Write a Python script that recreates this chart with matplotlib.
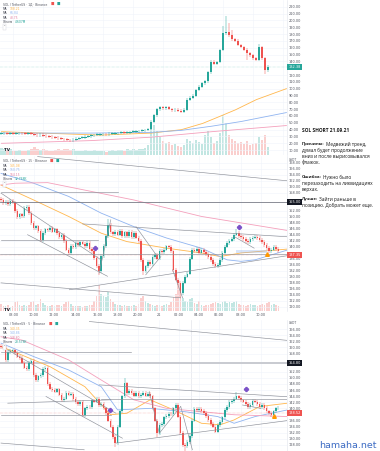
#!/usr/bin/env python3

import matplotlib
matplotlib.use("Agg")
import matplotlib.pyplot as plt
import numpy as np

# figure size in px
W, H = 380, 451

GREEN = "#26a69a"
RED = "#ef5350"
MA_ORANGE = "#ffb74d"
MA_BLUE = "#90b4f0"
MA_PINK = "#f4a0bc"
LINE = "#8d9099"
PURPLE = "#7b52c8"

# ---------------- panel 1: daily ----------------
p1_first_open = 34.0
p1_close = [34.5, 35.0, 34.2, 34.8, 33.9, 34.6, 35.2, 34.4, 34.0, 34.7,
            33.8, 32.5, 31.8, 32.4, 31.0, 30.2, 29.5, 28.8, 28.0, 27.2,
            26.5, 25.8, 25.0, 24.2, 25.5, 26.8, 27.9, 28.5, 29.8, 30.5,
            31.5, 32.0, 32.6, 33.0, 33.4, 33.1, 33.9, 34.2, 34.6, 35.0,
            35.4, 35.0, 35.8, 36.4, 36.9, 37.5, 38.2, 38.8, 39.5, 41.0,
            51.6, 61.0, 70.0, 72.5, 71.0, 72.8, 70.2, 68.5, 69.5, 67.8,
            66.5, 69.0, 84.0, 87.0, 90.0, 98.0, 103.0, 108.0, 110.5, 124.0,
            139.5, 136.0, 139.0, 156.6, 181.0, 182.5, 178.0, 172.0, 170.0, 164.0,
            161.0, 157.0, 151.8, 149.0, 144.5, 142.0, 161.0, 144.5, 127.0, 132.0]
p1_volume = [1.8, 1.5, 1.2, 1.4, 1.0, 1.1, 1.3, 0.9, 1.0, 1.2,
             1.6, 2.0, 1.4, 1.2, 1.5, 1.3, 1.1, 1.0, 1.2, 1.4,
             1.3, 1.5, 1.6, 1.2, 1.4, 1.1, 1.0, 0.9, 1.2, 1.1,
             1.0, 1.2, 0.9, 1.0, 1.1, 0.8, 1.0, 1.2, 1.1, 1.3,
             1.2, 1.0, 1.4, 1.3, 1.5, 1.2, 1.6, 1.5, 1.8, 2.5,
             8.0, 7.5, 6.0, 4.5, 3.5, 3.0, 3.2, 2.5, 2.8, 2.2,
             2.0, 2.4, 4.0, 3.5, 3.0, 3.8, 3.2, 2.8, 5.0, 6.0,
             4.5, 3.0, 3.5, 5.5, 10.0, 8.0, 5.0, 4.0, 3.5, 3.0,
             3.2, 2.8, 3.6, 2.5, 2.8, 3.0, 4.5, 3.8, 5.0, 2.0]
p1_spikes = {74: (192, None), 75: (206, None), 76: (196, None), 77: (186, None),
             82: (None, 142), 86: (166, None), 88: (None, 122)}
p1_ma_orange = [(0, 37), (20, 34), (33, 32), (50, 35), (60, 40), (67, 49),
                (72, 58), (78, 69), (85, 84), (95, 100)]
p1_ma_blue = [(0, 35), (30, 35), (50, 36), (60, 39), (70, 45), (80, 52), (95, 65)]
p1_ma_pink = [(0, 20), (30, 24), (50, 29), (70, 37), (95, 46)]
p1_last = "132.38"
p1_legend = ["SOL / TetherUS · 1Д · Binance", "108.21", "66.84", "48.75", "4.607M"]

# ---------------- panel 2: 15 min ----------------
p2_first_open = 156.0
p2_close = [155.5, 154.5, 155.0, 154.2, 155.3, 154.8, 152.0, 150.0, 150.8, 150.2,
            153.0, 153.4, 151.2, 148.0, 146.2, 146.8, 145.2, 142.3, 144.5, 145.8,
            145.5, 146.2, 145.0, 145.8, 144.5, 143.2, 143.8, 141.8, 139.0, 137.9,
            140.2, 139.8, 141.2, 140.6, 141.4, 141.0, 140.2, 141.3, 139.2, 138.5,
            136.2, 133.5, 131.8, 136.8, 140.2, 143.4, 147.3, 144.8, 144.2, 145.0,
            144.0, 145.2, 143.5, 144.8, 143.6, 145.0, 143.2, 144.5, 143.0, 141.8,
            135.6, 131.8, 133.4, 135.0, 134.2, 136.5, 137.2, 136.0, 138.5, 138.2,
            139.0, 140.1, 140.0, 138.4, 132.3, 129.0, 127.9, 124.5, 128.0, 130.0,
            131.0, 136.0, 139.0, 138.6, 139.2, 138.0, 139.0, 138.3, 137.5, 136.5,
            135.6, 134.2, 133.4, 134.0, 135.6, 138.0, 140.0, 141.2, 142.0, 142.5,
            144.0, 144.5, 143.5, 143.2, 142.6, 141.8, 141.5, 142.5, 143.0, 143.2,
            142.8, 142.3, 141.5, 140.6, 139.5, 138.4, 139.0, 140.0, 139.2, 138.4]
p2_volume = [1.2, 0.8, 0.9, 1.0, 0.7, 0.8, 1.6, 1.8, 1.0, 0.9,
             1.1, 0.8, 1.0, 1.5, 1.7, 1.0, 1.2, 2.0, 1.3, 1.0,
             0.9, 0.8, 1.0, 0.9, 1.0, 1.1, 0.9, 1.2, 1.6, 1.8,
             1.2, 0.9, 0.8, 0.9, 0.8, 0.7, 0.9, 0.8, 1.0, 1.1,
             1.8, 2.6, 4.5, 3.0, 2.6, 2.4, 3.2, 2.0, 1.5, 1.2,
             1.0, 1.1, 0.9, 1.0, 0.8, 0.9, 0.8, 1.0, 0.9, 1.2,
             2.2, 2.6, 1.8, 1.4, 1.2, 1.0, 0.9, 1.0, 1.1, 0.9,
             1.0, 1.2, 1.1, 1.6, 2.4, 3.0, 4.8, 3.6, 2.2, 1.8,
             1.6, 2.0, 2.2, 1.4, 1.2, 1.8, 1.0, 0.9, 1.0, 1.1,
             1.2, 1.4, 1.6, 1.3, 1.2, 1.5, 1.7, 1.4, 1.6, 1.3,
             1.5, 1.8, 1.2, 1.0, 1.1, 0.9, 1.0, 1.2, 1.1, 1.0,
             0.9, 1.0, 1.2, 1.1, 1.4, 1.5, 1.0, 1.2, 1.1, 0.8]
p2_spikes = {42: (None, 130.4), 46: (149.2, None), 61: (None, 130.4),
             77: (None, 123.0), 101: (146.0, None)}
p2_ma_orange = [(0, 160.6), (14, 155.6), (29, 150.1), (43, 144.5), (54, 141.7),
                (71, 139.5), (86, 137.9), (94, 136.7), (103, 137.9), (123, 139.2)]
p2_ma_blue = [(0, 164.5), (14, 161.2), (29, 156.8), (43, 151.2), (57, 146.7),
              (71, 142.9), (86, 139.5), (97, 135.6), (103, 135.1), (109, 135.6), (123, 138.9)]
p2_ma_pink = [(0, 160.6), (6, 161.2), (20, 161.4), (57, 155.6), (86, 150.1), (123, 145.4)]
p2_lines = [(15.7, 170.1, 123, 162.0), (0, 157.9, 42.9, 135.6), (11.4, 144.0, 45.7, 130.1),
            (35, 147.6, 123, 143.3), (42.1, 131.2, 47.1, 149.0), (57.9, 146.7, 67.1, 136.7),
            (62.1, 130.6, 68.6, 136.7), (29.3, 125.6, 123, 137.0), (0, 127.9, 77.1, 122.9),
            (73.6, 132.3, 77.9, 122.9), (100, 143.4, 108.6, 139.5)]
p2_hlines = [(0, 50, 158.4), (0, 41.4, 142.3)]
p2_level = 155.0
p2_last = 137.35
p2_stars = [(40.4, 139.6), (101.9, 146.6)]
p2_arrow = (114.3, 137.4)
p2_time_pos = [5.6, 14.2, 22.7, 32.2, 41.6, 50.2, 58.8, 67.8, 76.4, 85.0, 93.6, 103.0, 111.6]
p2_time_lab = ["08:00", "10:00", "12:00", "14:00", "16:00", "18:00", "20:00", "21",
               "02:00", "04:00", "06:00", "08:00", "10:00"]
p2_legend = ["SOL / TetherUS · 15 · Binance", "145.08", "150.75", "164.15", "32.768K"]

# ---------------- panel 3: 5 min ----------------
p3_first_open = 160.5
p3_close = [160.2, 160.0, 155.9, 158.5, 158.8, 159.0, 158.2, 157.0, 156.5, 155.0,
            153.4, 153.0, 155.0, 155.5, 151.0, 149.3, 150.5, 151.0, 153.0, 153.2,
            148.0, 146.5, 146.0, 145.5, 146.2, 144.5, 142.8, 143.2, 145.0, 144.5,
            144.8, 143.0, 142.0, 141.5, 142.2, 137.8, 140.0, 140.5, 140.3, 142.6,
            142.2, 143.0, 141.0, 141.5, 140.0, 138.4, 136.0, 134.0, 130.5, 128.6,
            134.0, 139.0, 143.9, 148.2, 145.0, 145.6, 145.0, 144.2, 145.2, 144.0,
            144.5, 145.0, 144.2, 144.8, 143.9, 140.0, 136.0, 131.8, 134.5, 134.8,
            137.0, 137.5, 138.2, 138.0, 140.0, 141.1, 137.3, 132.0, 128.0, 127.5,
            129.0, 131.0, 136.0, 139.8, 139.5, 139.8, 139.2, 138.5, 137.5, 136.2,
            134.8, 134.0, 132.4, 134.5, 135.5, 137.0, 139.5, 140.5, 142.0, 142.5,
            143.2, 143.9, 143.5, 142.6, 142.2, 141.5, 140.5, 141.0, 142.5, 142.2,
            141.5, 140.5, 141.0, 140.2, 139.0, 138.4, 137.8, 139.0, 140.0, 140.2]
p3_spikes = {49: (None, 127.2), 53: (149.8, None), 67: (None, 130.6),
             79: (None, 125.0), 101: (145.4, None)}
p3_ma_orange = [(0, 160.3), (7, 158.1), (21, 153.7), (36, 147.1), (47, 137.9), (54, 138.4),
                (64, 142.8), (74, 139.5), (86, 135.1), (94, 134.6), (100, 136.2),
                (111, 140.6), (123, 141.7)]
p3_ma_blue = [(0, 161.4), (14, 157.0), (29, 152.6), (43, 147.1), (50, 139.5), (64, 140.0),
              (79, 138.9), (93, 137.3), (100, 135.1), (109, 137.3), (123, 139.5)]
p3_ma_pink = [(0, 163.5), (9, 162.4), (29, 155.9), (43, 149.3), (57, 142.8), (71, 140.0),
              (86, 138.9), (100, 137.9), (123, 137.3)]
p3_lines = [(37.9, 168.5, 123, 162.3), (2.9, 159.2, 49.3, 138.4), (19.3, 143.9, 52.1, 130.2),
            (2.9, 141.7, 47.1, 142.8), (42.1, 147.7, 123, 143.8), (49.3, 128.6, 123, 136.0),
            (0, 128.6, 35.7, 126.4), (63.6, 145.5, 67.9, 131.8), (67.9, 131.8, 77.1, 140.6),
            (77.1, 140.6, 82.1, 126.4), (103.6, 141.1, 111.4, 140.0)]
p3_hlines = [(0, 55.7, 158.4), (0, 47, 137.9), (43, 123, 143.1)]
p3_level = 154.8
p3_last = 138.52
p3_stars = [(46.9, 139.6), (105.3, 146.4)]
p3_arrow = (117.1, 137.4)
p3_legend = ["SOL / TetherUS · 5 · Binance", "140.35", "140.86", "148.80", "28.578K"]

notes = [
    [("SOL SHORT 21.09.21", "")],
    [("Причины:", "Медвежий тренд,"), ("", "думал будет продолжение"),
     ("", "вниз и после вырисовывался"), ("", "флажок.")],
    [("Ошибка:", "Нужно было"), ("", "перезаходить на ликвидациях"), ("", "верхах.")],
    [("Лучше:", "Зайти раньше в"), ("", "позицию. Добрать может еще.")],
]


def fx(x):
    return x / W


def fy(y):
    return 1 - y / H


def make_axes(top, bottom):
    return fig.add_axes([0, fy(bottom), 287 / W, (bottom - top) / H])


def setup(ax, xlim, ylim, ticks, xpos, boxes, near):
    # tradingview hides scale labels hidden under the price boxes
    ticks = [t for t in ticks if min(abs(t - b) for b in boxes) > near]
    ax.set_xlim(xlim)
    ax.set_ylim(ylim)
    ax.set_yticks(ticks)
    ax.set_yticklabels([f"{t:.2f}" for t in ticks])
    ax.set_xticks(xpos)
    ax.set_xticklabels([])
    ax.tick_params(axis="both", length=0, pad=1.3, labelsize=2.5, labelcolor="#50535e")
    for s in ["top", "left", "bottom"]:
        ax.spines[s].set_visible(False)
    ax.spines["right"].set_color("#e0e3eb")
    ax.spines["right"].set_linewidth(0.4)
    ax.grid(color="#f0f3fa", linewidth=0.4)
    ax.set_axisbelow(True)


def candles(ax, first_open, closes, spikes, wick, width, minbody):
    closes = np.asarray(closes, float)
    opens = np.concatenate([[first_open], closes[:-1]])
    hi = np.maximum(opens, closes) + wick
    lo = np.minimum(opens, closes) - wick
    for i, (h, l) in spikes.items():
        if h is not None:
            hi[i] = h
        if l is not None:
            lo[i] = l
    x = np.arange(len(closes))
    col = np.where(closes >= opens, GREEN, RED)
    ax.vlines(x, lo, hi, colors=col, linewidth=0.35, zorder=3)
    body = np.maximum(np.abs(closes - opens), minbody)
    ax.bar(x, body, width, bottom=np.minimum(opens, closes), color=col, linewidth=0, zorder=4)
    return col


def volume(ax, vol, col, top):
    tw = ax.twinx()
    tw.bar(np.arange(len(vol)), vol, 0.7, color=col, alpha=0.28, linewidth=0)
    tw.set_ylim(0, top)
    tw.set_yticks([])
    for s in tw.spines.values():
        s.set_visible(False)
    tw.set_zorder(ax.get_zorder() - 1)
    ax.patch.set_visible(False)


def ma(ax, pts, color):
    pts = np.array(pts)
    ax.plot(pts[:, 0], pts[:, 1], color=color, linewidth=0.6, zorder=2)


def price_box(ax, price, text, color):
    ax.text(1.004, price, text, transform=ax.get_yaxis_transform(), fontsize=2.5,
            color="white", va="center", ha="left", clip_on=False, zorder=10,
            bbox=dict(boxstyle="square,pad=0.3", fc=color, ec="none"))


def legend(top, items):
    t = fig.text(fx(3), fy(top), items[0], fontsize=2.2, color="#50535e", va="center")
    x1 = t.get_window_extent(renderer).x1
    fig.text(fx(x1 + 3), fy(top), "■", fontsize=2.6, color=RED, va="center")
    fig.text(fx(x1 + 9), fy(top), "■", fontsize=2.6, color=GREEN, va="center")
    names = ["MA", "MA", "MA", "Объем"]
    cols = [MA_ORANGE, MA_BLUE, "#e07ea0", GREEN]
    for k in range(4):
        y = fy(top + 4.6 * (k + 1))
        n = fig.text(fx(3), y, names[k], fontsize=2.2, color="#50535e", va="center")
        nx = n.get_window_extent(renderer).x1
        fig.text(fx(nx + 2), y, items[k + 1], fontsize=2.2, color=cols[k], va="center")
    fig.text(fx(4), fy(top + 4.6 * 5), "˄", fontsize=2.2, color="#50535e", va="center",
             bbox=dict(boxstyle="square,pad=0.2", fc="white", ec="#d0d3db", lw=0.3))


def trend(ax, lines, hlines):
    for x0, p0, x1, p1 in lines:
        ax.plot([x0, x1], [p0, p1], color=LINE, linewidth=0.45, zorder=5)
    for x0, x1, p in hlines:
        ax.plot([x0, x1], [p, p], color=LINE, linewidth=0.45, zorder=5)


fig = plt.figure(figsize=(W / 100, H / 100), dpi=100)
fig.patch.set_facecolor("white")
renderer = fig.canvas.get_renderer()

# panel 1
ax1 = make_axes(0, 155)
setup(ax1, (-0.5, 95.2), (2.9, 229.8), list(range(10, 230, 10)), list(range(4, 95, 10)),
      [p1_close[-1]], 5)
c1 = candles(ax1, p1_first_open, p1_close, p1_spikes, 2.0, 0.7, 1.0)
volume(ax1, p1_volume, c1, 39)
ax1.yaxis.tick_right()
ma(ax1, p1_ma_orange, MA_ORANGE)
ma(ax1, p1_ma_blue, MA_BLUE)
ma(ax1, p1_ma_pink, MA_PINK)
ax1.axhline(p1_close[-1], color=GREEN, linewidth=0.35, linestyle=":", alpha=0.6)
price_box(ax1, p1_close[-1], p1_last, GREEN)
legend(4, p1_legend)
fig.text(fx(4), fy(150), "TV", fontsize=3, fontweight="bold", color="#131722", va="center")

# panel 2
ax2 = make_axes(156, 311)
setup(ax2, (-0.43, 122.7), (118.5, 170.3), list(range(120, 169, 2)), p2_time_pos,
      [p2_level, p2_last], 1.3)
ax2.set_xticklabels(p2_time_lab)
ax2.tick_params(axis="x", pad=1.5)
c2 = candles(ax2, p2_first_open, p2_close, p2_spikes, 0.6, 0.65, 0.25)
volume(ax2, p2_volume, c2, 26.6)
ax2.yaxis.tick_right()
ma(ax2, p2_ma_orange, MA_ORANGE)
ma(ax2, p2_ma_blue, MA_BLUE)
ma(ax2, p2_ma_pink, MA_PINK)
trend(ax2, p2_lines, p2_hlines)
ax2.axhline(p2_level, color="#787b86", linewidth=0.6, zorder=5)
ax2.axhline(137.6, color=LINE, linewidth=0.45, zorder=5)
ax2.fill_between([101, 114], 137.9, 138.9, color=MA_BLUE, alpha=0.35, linewidth=0, zorder=2)
ax2.axhline(p2_last, color=RED, linewidth=0.35, linestyle=":", alpha=0.7)
for x, p in p2_stars:
    ax2.plot(x, p, marker="P", color=PURPLE, ms=2.8, zorder=8)
ax2.plot(*p2_arrow, marker="^", color="#ff9800", ms=2.6, zorder=8)
price_box(ax2, p2_level, f"{p2_level:.2f}", "#131722")
price_box(ax2, p2_last, f"{p2_last:.2f}", RED)
legend(161, p2_legend)
fig.text(fx(4), fy(310), "TV", fontsize=3, fontweight="bold", color="#131722", va="center")
fig.text(fx(289), fy(160), "USDT", fontsize=2.2, color="#50535e", va="center")

# panel 3
ax3 = make_axes(320, 451)
setup(ax3, (-0.43, 122.7), (126, 169), list(range(128, 167, 2)), p2_time_pos,
      [p3_level, p3_last], 1.3)
ax3.yaxis.tick_right()
candles(ax3, p3_first_open, p3_close, p3_spikes, 0.6, 0.65, 0.25)
ma(ax3, p3_ma_orange, MA_ORANGE)
ma(ax3, p3_ma_blue, MA_BLUE)
ma(ax3, p3_ma_pink, MA_PINK)
trend(ax3, p3_lines, p3_hlines)
ax3.axhline(p3_level, color="#c8cad0", linewidth=1.4, zorder=1)
ax3.axvline(13.7, color="#e3e5ea", linewidth=0.5, zorder=0)
ax3.axvline(81.5, color="#e3e5ea", linewidth=0.5, zorder=0)
ax3.axhline(p3_last, color=RED, linewidth=0.35, linestyle=":", alpha=0.7)
for x, p in p3_stars:
    ax3.plot(x, p, marker="P", color=PURPLE, ms=2.8, zorder=8)
ax3.plot(*p3_arrow, marker="^", color="#ff9800", ms=2.6, zorder=8)
price_box(ax3, p3_level, f"{p3_level:.2f}", "#131722")
price_box(ax3, p3_last, f"{p3_last:.2f}", RED)
legend(324, p3_legend)
fig.text(fx(289), fy(323), "USDT", fontsize=2.2, color="#50535e", va="center")

# notes on the right
para_top = [131, 144, 177, 199.3]
for para, y0 in zip(notes, para_top):
    for k, (bold, rest) in enumerate(para):
        y = fy(y0 + 6.1 * k)
        x = 302
        if bold:
            size = 3.5 if not rest else 3.1
            t = fig.text(fx(x), y, bold, fontsize=size, fontweight="bold", family="Open Sans",
                         color="#1a1a1a", va="center")
            x = t.get_window_extent(renderer).x1 + (0.4 if bold == "Лучше:" else 1.3)
        if rest:
            fig.text(fx(x), y, rest, fontsize=3.4, family="Open Sans", color="#1a1a1a",
                     va="center")

fig.text(fx(377), fy(445), "hamaha.net", fontsize=6.8, color="#3d6cc4", va="center", ha="right")

fig.savefig("out.png", dpi=100)
